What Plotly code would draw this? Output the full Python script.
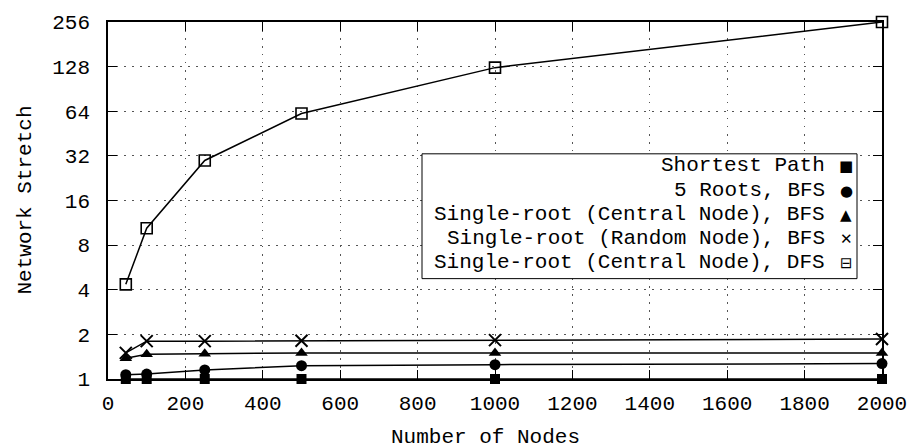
import plotly.graph_objects as go
import math

# ---- data ----
nodes = [46, 100, 250, 500, 1000, 2000]
shortest_path = [1.0, 1.0, 1.0, 1.0, 1.0, 1.0]
roots5_bfs = [1.07, 1.08, 1.15, 1.23, 1.25, 1.27]
central_bfs = [1.38, 1.47, 1.48, 1.50, 1.50, 1.50]
random_bfs = [1.50, 1.80, 1.80, 1.81, 1.83, 1.86]
central_dfs = [4.35, 10.4, 29.8, 61.8, 126, 256]

series_names = [
    "Shortest Path",
    "5 Roots, BFS",
    "Single-root (Central Node), BFS",
    "Single-root (Random Node), BFS",
    "Single-root (Central Node), DFS",
]
legend_glyphs = ["\u25A0", "\u25CF", "\u25B2", "\u2715", "\u229F"]
y_ticks = [1, 2, 4, 8, 16, 32, 64, 128, 256]
x_ticks = [0, 200, 400, 600, 800, 1000, 1200, 1400, 1600, 1800, 2000]

FONT = "Liberation Mono"
FS = 21

styles = [
    dict(symbol="square", size=10, color="black"),
    dict(symbol="circle", size=11, color="black"),
    dict(symbol="triangle-up", size=11, color="black"),
    dict(symbol="x-thin", size=12, color="black", line=dict(width=2, color="black")),
    dict(symbol="square-open", size=11, color="black", line=dict(width=1.6, color="black")),
]
all_series = [shortest_path, roots5_bfs, central_bfs, random_bfs, central_dfs]

fig = go.Figure()
for name, ys, st in zip(series_names, all_series, styles):
    fig.add_trace(go.Scatter(
        x=nodes, y=ys, mode="lines+markers", name=name,
        line=dict(color="black", width=1.5),
        marker=st, cliponaxis=False, showlegend=False,
    ))

# ---- custom legend (gnuplot style: text then symbol on the right) ----
W, H = 913, 448
L, R, T, B = 108, 31, 22, 68.5
pw, ph = W - L - R, H - T - B

def px(xp):
    return (xp - L) / pw

def py(yp):
    return (H - B - yp) / ph

row_y = [166, 191, 215, 239, 263]
mark_x = 846
text_x = 827

fig.add_shape(
    type="rect", xref="paper", yref="paper",
    x0=px(422), x1=px(857), y0=py(279), y1=py(154),
    fillcolor="white", line=dict(color="black", width=1), layer="above",
)
for name, glyph, yv in zip(series_names, legend_glyphs, row_y):
    fig.add_annotation(
        x=px(text_x), y=py(yv), xref="paper", yref="paper",
        text=name, showarrow=False, xanchor="right", yanchor="middle",
        font=dict(family=FONT, size=FS, color="black"),
    )
    fig.add_annotation(
        x=px(mark_x), y=py(yv), xref="paper", yref="paper",
        text=glyph, showarrow=False, xanchor="center", yanchor="middle",
        font=dict(family="DejaVu Sans", size=15, color="black"),
    )

# axis titles
fig.add_annotation(
    x=px(485), y=py(438), xref="paper", yref="paper", text="Number of Nodes",
    showarrow=False, xanchor="center", yanchor="middle",
    font=dict(family=FONT, size=FS, color="black"),
)
fig.add_annotation(
    x=px(25), y=0.5, xref="paper", yref="paper", text="Network Stretch",
    showarrow=False, textangle=-90, xanchor="center", yanchor="middle",
    font=dict(family=FONT, size=FS, color="black"),
)

axis_common = dict(
    showline=True, linecolor="black", linewidth=1.5, mirror="ticks",
    ticks="inside", ticklen=9, tickwidth=1, tickcolor="black",
    showgrid=True, gridcolor="#555", griddash="1.5px,6.5px", gridwidth=1,
    zeroline=False, automargin=False,
    tickfont=dict(family=FONT, size=FS, color="black"),
)

fig.update_layout(
    width=W, height=H,
    margin=dict(l=L, r=R, t=T, b=B, autoexpand=False),
    paper_bgcolor="white", plot_bgcolor="white",
    xaxis=dict(range=[0, 2000], tickvals=x_ticks, ticklabelstandoff=4, **axis_common),
    yaxis=dict(type="log", range=[0, math.log10(256)], tickvals=y_ticks,
               ticktext=[str(v) for v in y_ticks], ticklabelstandoff=12, **axis_common),
    showlegend=False,
)

fig.write_html("out.html")
